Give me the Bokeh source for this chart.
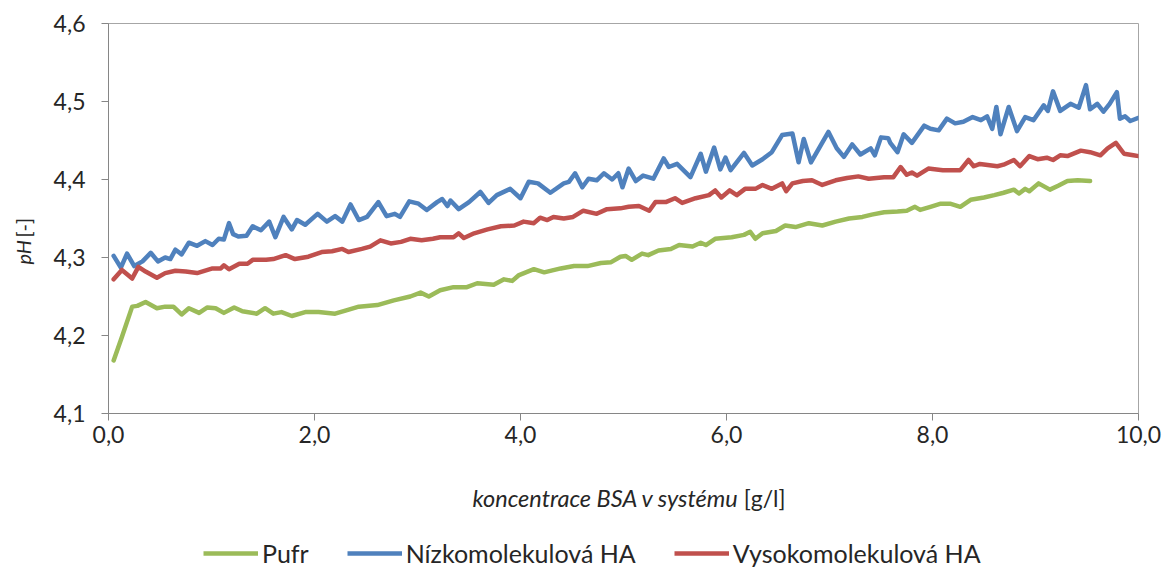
from math import pi
from bokeh.plotting import figure
from bokeh.layouts import row, column
from bokeh.models import (FixedTicker, Range1d, Label, Legend, LegendItem, ColumnDataSource)
from bokeh.embed import file_html
from bokeh.resources import INLINE

# ---------------- data ----------------
pufr_x = [0.05,0.13,0.23,0.28,0.36,0.47,0.55,0.63,0.71,0.78,0.88,0.96,1.04,1.12,1.22,1.30,1.44,1.52,1.60,1.68,
          1.78,1.91,2.04,2.20,2.30,2.43,2.61,2.77,2.93,3.03,3.11,3.22,3.35,3.48,3.58,3.74,3.84,3.92,3.98,4.13,
          4.23,4.39,4.52,4.65,4.78,4.88,4.97,5.02,5.08,5.18,5.24,5.34,5.46,5.54,5.67,5.75,5.80,5.89,6.05,6.17,
          6.23,6.28,6.35,6.48,6.57,6.67,6.80,6.93,7.06,7.19,7.32,7.41,7.53,7.66,7.75,7.83,7.88,7.98,8.08,8.17,
          8.27,8.37,8.50,8.60,8.69,8.79,8.84,8.90,8.94,9.03,9.14,9.22,9.31,9.41,9.53]
pufr_ph = [4.168,4.198,4.237,4.238,4.243,4.235,4.237,4.237,4.227,4.235,4.229,4.236,4.235,4.229,4.236,4.231,4.228,4.235,4.228,4.230,
           4.225,4.230,4.230,4.228,4.232,4.237,4.239,4.245,4.250,4.255,4.250,4.258,4.262,4.262,4.267,4.265,4.272,4.270,4.277,4.285,
           4.281,4.286,4.289,4.289,4.293,4.294,4.301,4.302,4.297,4.305,4.303,4.309,4.311,4.316,4.314,4.319,4.316,4.324,4.326,4.329,
           4.333,4.324,4.331,4.334,4.341,4.339,4.344,4.341,4.346,4.350,4.352,4.355,4.358,4.359,4.360,4.365,4.361,4.365,4.369,4.369,
           4.365,4.374,4.377,4.380,4.383,4.387,4.382,4.388,4.385,4.395,4.387,4.392,4.398,4.399,4.398]

nizko_x = [0.05,0.12,0.18,0.25,0.33,0.41,0.48,0.55,0.60,0.65,0.71,0.78,0.86,0.94,1.01,1.07,1.12,1.17,1.21,1.26,
           1.34,1.40,1.48,1.56,1.62,1.70,1.78,1.83,1.91,2.03,2.12,2.20,2.27,2.35,2.43,2.51,2.62,2.70,2.78,2.83,
           2.92,3.01,3.09,3.19,3.24,3.29,3.32,3.40,3.50,3.61,3.69,3.77,3.90,4.00,4.08,4.17,4.29,4.42,4.47,4.53,
           4.60,4.66,4.74,4.81,4.89,4.95,4.99,5.05,5.12,5.19,5.29,5.39,5.44,5.52,5.65,5.75,5.80,5.88,5.94,5.99,
           6.04,6.17,6.25,6.35,6.44,6.54,6.64,6.70,6.75,6.82,6.92,6.99,7.07,7.14,7.22,7.30,7.40,7.44,7.50,7.57,
           7.59,7.66,7.72,7.80,7.92,7.98,8.06,8.14,8.22,8.30,8.39,8.47,8.53,8.58,8.62,8.66,8.74,8.82,8.90,8.98,
           9.08,9.12,9.17,9.24,9.34,9.42,9.49,9.53,9.60,9.66,9.72,9.79,9.82,9.87,9.92,10.0]
nizko_ph = [4.302,4.287,4.305,4.289,4.295,4.306,4.295,4.300,4.298,4.310,4.304,4.319,4.315,4.321,4.316,4.324,4.323,4.344,4.330,4.327,
            4.328,4.340,4.335,4.346,4.326,4.352,4.336,4.348,4.342,4.356,4.346,4.353,4.346,4.368,4.348,4.352,4.371,4.353,4.356,4.352,
            4.372,4.369,4.361,4.371,4.375,4.366,4.373,4.362,4.371,4.384,4.370,4.380,4.388,4.376,4.397,4.395,4.383,4.395,4.397,4.408,
            4.390,4.401,4.399,4.408,4.400,4.408,4.390,4.414,4.398,4.405,4.401,4.427,4.416,4.420,4.403,4.433,4.410,4.441,4.413,4.428,
            4.412,4.434,4.418,4.426,4.435,4.457,4.459,4.422,4.452,4.422,4.445,4.461,4.440,4.429,4.445,4.432,4.440,4.431,4.454,4.453,
            4.447,4.435,4.458,4.447,4.469,4.465,4.463,4.478,4.472,4.474,4.480,4.476,4.481,4.465,4.493,4.458,4.493,4.462,4.480,4.476,
            4.495,4.488,4.513,4.488,4.497,4.492,4.521,4.490,4.497,4.487,4.497,4.512,4.478,4.481,4.475,4.479]

vysoko_x = [0.05,0.13,0.23,0.29,0.36,0.47,0.55,0.65,0.75,0.86,1.01,1.09,1.12,1.17,1.27,1.35,1.40,1.53,1.60,1.72,
            1.81,1.94,2.07,2.17,2.27,2.33,2.46,2.54,2.64,2.74,2.84,2.93,3.04,3.15,3.22,3.35,3.40,3.45,3.55,3.68,
            3.81,3.94,4.03,4.13,4.19,4.26,4.32,4.42,4.51,4.61,4.74,4.84,4.97,5.05,5.15,5.25,5.31,5.41,5.50,5.57,
            5.70,5.83,5.89,5.95,6.03,6.10,6.18,6.28,6.35,6.44,6.54,6.58,6.64,6.74,6.83,6.93,7.06,7.17,7.28,7.38,
            7.53,7.62,7.69,7.75,7.80,7.85,7.96,8.10,8.27,8.35,8.40,8.46,8.63,8.69,8.79,8.85,8.94,9.02,9.11,9.17,
            9.24,9.31,9.44,9.53,9.63,9.70,9.78,9.86,9.95,10.0]
vysoko_ph = [4.272,4.284,4.273,4.288,4.282,4.274,4.280,4.283,4.282,4.280,4.286,4.286,4.290,4.285,4.292,4.292,4.297,4.297,4.298,4.303,
             4.298,4.301,4.307,4.308,4.311,4.307,4.311,4.314,4.322,4.318,4.320,4.324,4.322,4.324,4.326,4.326,4.331,4.325,4.331,4.336,
             4.340,4.341,4.346,4.344,4.351,4.348,4.352,4.350,4.352,4.360,4.356,4.362,4.363,4.365,4.366,4.360,4.371,4.371,4.376,4.370,
             4.376,4.380,4.386,4.377,4.386,4.380,4.388,4.388,4.393,4.388,4.395,4.385,4.395,4.398,4.399,4.393,4.399,4.402,4.404,4.401,
             4.403,4.403,4.416,4.406,4.409,4.405,4.414,4.412,4.412,4.425,4.417,4.420,4.417,4.419,4.425,4.417,4.430,4.426,4.428,4.425,
             4.431,4.430,4.437,4.435,4.431,4.440,4.447,4.433,4.431,4.430]

series_names = ["Pufr", "Nízkomolekulová HA", "Vysokomolekulová HA"]
series_colors = ["#9BBB59", "#4F81BD", "#C0504D"]

x_ticks = [0, 2, 4, 6, 8, 10]
x_tick_labels = ["0,0", "2,0", "4,0", "6,0", "8,0", "10,0"]
y_ticks = [4.1, 4.2, 4.3, 4.4, 4.5, 4.6]
y_tick_labels = ["4,1", "4,2", "4,3", "4,4", "4,5", "4,6"]

x_title_italic, x_title_unit = "koncentrace BSA v systému", "[g/l]"
y_title_italic, y_title_unit = "pH", "[-]"

assert len(pufr_x) == len(pufr_ph)
assert len(nizko_x) == len(nizko_ph)
assert len(vysoko_x) == len(vysoko_ph)

FONT = "Lato"
TXT = "#262626"
AX = "#868686"
W, H = 1162, 572
LEFT_W = 40          # strip holding the y-axis title
FRAME_L = 108        # plot frame left edge (screen px)
MAIN_H = 460


def blank_fig(width, height):
    f = figure(width=width, height=height, output_backend="svg", toolbar_location=None,
               x_range=Range1d(0, 1), y_range=Range1d(0, 1), min_border=0)
    f.axis.visible = False
    f.grid.visible = False
    f.outline_line_color = None
    f.background_fill_color = "white"
    f.border_fill_color = "white"
    return f


# ---------------- main chart ----------------
p = figure(width=W - LEFT_W, height=MAIN_H, output_backend="svg", toolbar_location=None,
           x_range=Range1d(0, 10), y_range=Range1d(4.1, 4.6),
           min_border_left=FRAME_L - LEFT_W, min_border_right=24, min_border_top=23,
           min_border_bottom=MAIN_H - 413)
p.background_fill_color = "white"
p.border_fill_color = "white"
p.outline_line_color = "#a6a6a6"
p.grid.visible = False

for xs, ys, col in [(pufr_x, pufr_ph, series_colors[0]),
                    (nizko_x, nizko_ph, series_colors[1]),
                    (vysoko_x, vysoko_ph, series_colors[2])]:
    src = ColumnDataSource(dict(x=xs, y=ys))
    p.line("x", "y", source=src, line_color=col, line_width=4.5,
           line_join="round", line_cap="round")

for ax in (p.xaxis[0], p.yaxis[0]):
    ax.axis_line_color = AX
    ax.major_tick_line_color = AX
    ax.minor_tick_line_color = None
    ax.major_tick_in = 0
    ax.major_tick_out = 7
    ax.major_label_text_font = FONT
    ax.major_label_text_font_size = "23px"
    ax.major_label_text_color = TXT

p.xaxis[0].ticker = FixedTicker(ticks=x_ticks)
p.xaxis[0].major_label_overrides = {t: l for t, l in zip(x_ticks, x_tick_labels)}
p.xaxis[0].major_label_standoff = 5
p.yaxis[0].ticker = FixedTicker(ticks=y_ticks)
p.yaxis[0].major_label_standoff = 16
p.yaxis[0].major_label_overrides = {t: l for t, l in zip(y_ticks, y_tick_labels)}

# ---------------- left strip: y title ----------------
left = blank_fig(LEFT_W, H)
lab_kw = dict(x_units="screen", y_units="screen", text_font=FONT, text_color=TXT,
              text_baseline="middle")
left.add_layout(Label(x=22, y=H - 264, text=y_title_italic, text_font_style="italic",
                      angle=pi / 2, text_align="left", text_font_size="20px", **lab_kw))
left.add_layout(Label(x=22, y=H - 237, text=y_title_unit, angle=pi / 2, text_align="left",
                      text_font_size="20px", **lab_kw))

# ---------------- bottom strip: x title + legend ----------------
# (its frame is aligned with the main frame, so x offsets are measured from FRAME_L)
BOT_H = H - MAIN_H
bottom = blank_fig(W - LEFT_W, BOT_H)
bottom.add_layout(Label(x=472 - FRAME_L, y=BOT_H - (497 - MAIN_H), text=x_title_italic,
                        text_font_style="italic", text_align="left", text_font_size="23.5px", **lab_kw))
bottom.add_layout(Label(x=785 - FRAME_L, y=BOT_H - (497 - MAIN_H), text=x_title_unit,
                        text_align="right", text_font_size="23px", **lab_kw))

nan = float("nan")
leg_renderers = [bottom.line(x=[nan], y=[nan], line_color=c, line_width=4.5) for c in series_colors]
legend = Legend(items=[LegendItem(label=n, renderers=[r]) for n, r in zip(series_names, leg_renderers)],
                location=(203 - FRAME_L, H - 568), orientation="horizontal",
                glyph_width=55, glyph_height=24, label_height=24, label_standoff=4, spacing=38,
                padding=0, margin=0, border_line_color=None, background_fill_alpha=0,
                label_text_font=FONT, label_text_font_size="25px", label_text_color=TXT)
bottom.add_layout(legend)

layout = row(left, column(p, bottom, spacing=0), spacing=0)
open("out.html", "w").write(file_html(layout, INLINE))
